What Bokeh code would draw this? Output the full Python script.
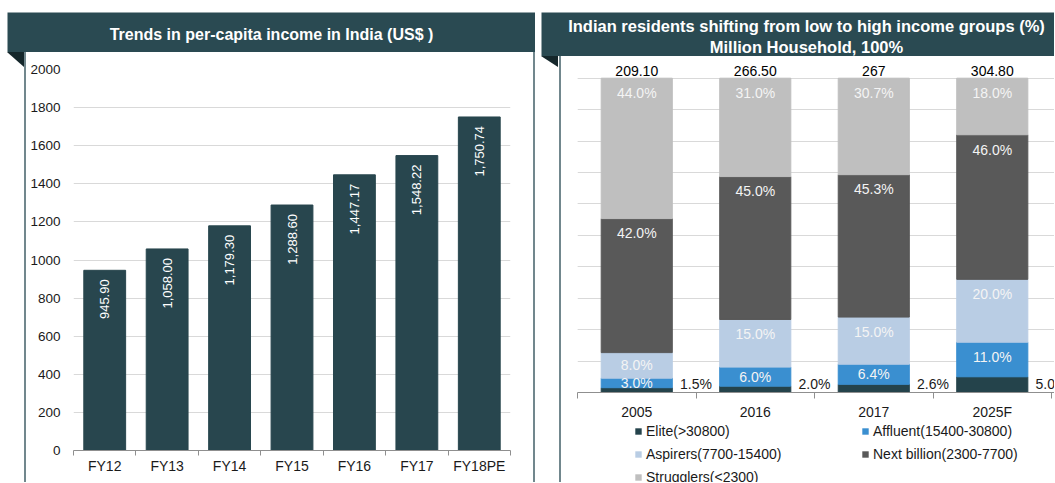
import numpy as np
from bokeh.plotting import figure
from bokeh.models import (ColumnDataSource, Range1d, FixedTicker, Legend, LegendItem,
                          Div, Spacer, Grid)
from bokeh.layouts import row, column
from bokeh.core.properties import value
from bokeh.embed import file_html
from bokeh.resources import INLINE

# ---------------- data ----------------
fy_labels = ["FY12", "FY13", "FY14", "FY15", "FY16", "FY17", "FY18PE"]
per_capita_income = [945.90, 1058.00, 1179.30, 1288.60, 1447.17, 1548.22, 1750.74]
left_ticks = list(range(0, 2001, 200))

years = ["2005", "2016", "2017", "2025F"]
households_mn_labels = ["209.10", "266.50", "267", "304.80"]
elite = [1.5, 2.0, 2.6, 5.0]
affluent = [3.0, 6.0, 6.4, 11.0]
aspirers = [8.0, 15.0, 15.0, 20.0]
next_billion = [42.0, 45.0, 45.3, 46.0]
strugglers = [44.0, 31.0, 30.7, 18.0]
group_names = ["Elite(>30800)", "Affluent(15400-30800)", "Aspirers(7700-15400)",
               "Next billion(2300-7700)", "Strugglers(<2300)"]
right_grid = list(range(0, 101, 10))

title_left = "Trends in per-capita income in India (US$ )"
title_right_1 = "Indian residents shifting from low to high income groups (%)"
title_right_2 = "Million Household, 100%"

# ---------------- styles ----------------
FONT = "Liberation Sans"
HDR = "#2a4a52"
BAR = "#28464e"
TRI = "#15272b"
EDGE = "#71878d"
GRID = "#d9d9d9"
AXIS = "#8f8f8f"
TXT = "#1a1a1a"
SEG_COLORS = ["#24434b", "#3a8fd0", "#b9cde4", "#595959", "#bfbfbf"]


def bare_figure(width, height, fill="white", **kw):
    f = figure(width=width, height=height, toolbar_location=None, output_backend="svg",
               min_border=0, x_axis_location=None, y_axis_location=None,
               background_fill_color=fill, border_fill_color=fill, outline_line_color=None, **kw)
    f.margin = 0
    f.xgrid.visible = False
    f.ygrid.visible = False
    return f


def header(width, height, lines, size):
    h = bare_figure(width, height, fill=HDR, x_range=Range1d(0, width), y_range=Range1d(0, height))
    for (tx, ty, t) in lines:
        h.text(x=[tx], y=[ty], text=[t], text_align="center", text_baseline="middle",
               text_color="white", text_font=value(FONT), text_font_style="bold",
               text_font_size=size)
    return h


def strip(width, height, tri_w, tri_h):
    html = (f'<div style="position:relative;width:{width}px;height:{height}px;background:#ffffff;">'
            f'<div style="position:absolute;left:0;top:0;width:0;height:0;'
            f'border-top:{tri_h}px solid {TRI};border-left:{tri_w}px solid transparent;"></div>'
            f'<div style="position:absolute;left:{width-2}px;top:0;width:2px;height:{height}px;'
            f'background:{EDGE};"></div></div>')
    return Div(text=html, width=width, height=height, margin=0)


def style_cat_axis(a, labels, centers, n_cat, tick_len, standoff):
    a.ticker = FixedTicker(ticks=centers, minor_ticks=list(range(n_cat + 1)))
    a.major_label_overrides = {x: l for x, l in zip(centers, labels)}
    a.major_tick_out = 0
    a.major_tick_in = 0
    a.minor_tick_out = tick_len
    a.minor_tick_in = 0
    a.minor_tick_line_color = AXIS
    a.axis_line_color = AXIS
    a.major_label_standoff = standoff
    a.major_label_text_font = FONT
    a.major_label_text_font_size = "14px"
    a.major_label_text_color = TXT


# ---------------- left chart ----------------
n = len(fy_labels)
xs = [i + 0.5 for i in range(n)]
p1 = figure(width=507, height=430, x_range=Range1d(0, n), y_range=Range1d(0, 2000),
            toolbar_location=None, output_backend="svg",
            min_border_left=47, min_border_right=23, min_border_top=17, min_border_bottom=32,
            outline_line_color=None, background_fill_color="white", border_fill_color="white")
p1.margin = 0
src1 = ColumnDataSource(dict(x=xs, top=per_capita_income,
                             label=[f"{v:,.2f}" for v in per_capita_income]))
p1.vbar(x="x", top="top", bottom=0, width=0.67, color=BAR, source=src1)
p1.text(x="x", y="top", text="label", angle=np.pi / 2, text_align="right",
        text_baseline="middle", y_offset=9, text_color="white", text_font=value(FONT),
        text_font_size="13px", source=src1)

style_cat_axis(p1.xaxis[0], fy_labels, xs, n, 5, 2)

ay = p1.yaxis[0]
ay.ticker = FixedTicker(ticks=left_ticks)
ay.axis_line_color = None
ay.major_tick_line_color = None
ay.minor_tick_line_color = None
ay.major_tick_out = 0
ay.major_tick_in = 0
ay.minor_tick_out = 0
ay.minor_tick_in = 0
ay.major_label_standoff = 13
ay.major_label_text_font = FONT
ay.major_label_text_font_size = "13.5px"
ay.major_label_text_color = TXT
p1.ygrid.ticker = FixedTicker(ticks=left_ticks)
p1.ygrid.grid_line_color = GRID
p1.xgrid.visible = False

# ---------------- right chart ----------------
m = len(years)
xr = [i + 0.5 for i in range(m)]
series = [elite, affluent, aspirers, next_billion, strugglers]
totals = [sum(v) for v in zip(*series)]
norm = [[v / t * 100 for v, t in zip(s, totals)] for s in series]
keys = ["elite", "affluent", "aspirers", "next_billion", "strugglers"]
data = dict(x=xr)
for k, s in zip(keys, norm):
    data[k] = s
src2 = ColumnDataSource(data)

p2 = figure(width=493, height=366, x_range=Range1d(0, 4.025), y_range=Range1d(0, 106.9),
            y_axis_location=None, toolbar_location=None, output_backend="svg",
            min_border_left=16, min_border_right=0, min_border_top=0, min_border_bottom=27,
            outline_line_color=None, background_fill_color="white", border_fill_color="white")
p2.margin = 0
p2.add_layout(Grid(dimension=1, ticker=FixedTicker(ticks=right_grid), grid_line_color=GRID))
p2.xgrid.visible = False
rs = p2.vbar_stack(keys, x="x", width=0.6, color=SEG_COLORS, source=src2)

lab_x, lab_y, lab_t = [], [], []
cum = [0.0] * m
for si, s in enumerate(norm):
    for j in range(m):
        b = cum[j]
        t = b + s[j]
        if si > 0:
            lab_x.append(xr[j])
            lab_y.append(max(t - 4.7, (b + t) / 2))
            lab_t.append(f"{series[si][j]:.1f}%")
        cum[j] = t
p2.text(x=lab_x, y=lab_y, text=lab_t, text_align="center", text_baseline="middle",
        text_color="#f4f4f4", text_font=value(FONT), text_font_size="14px")

p2.text(x=[i + 1 for i in range(m)], y=[0] * m, text=[f"{v:.1f}%" for v in elite],
        text_align="center", text_baseline="bottom", y_offset=-1,
        text_color=TXT, text_font=value(FONT), text_font_size="14px")

p2.text(x=xr, y=[100] * m, text=households_mn_labels, text_align="center",
        text_baseline="bottom", y_offset=-2, text_color="#000000",
        text_font=value(FONT), text_font_size="14px")

style_cat_axis(p2.xaxis[0], years, xr, m, 6, 5)

# legend area under the right chart (two single-column legends)
pl = bare_figure(493, 60, x_range=Range1d(0, 1), y_range=Range1d(0, 1))
# zero-height swatch renderers (nothing visible); only their legend glyphs show
leg_rs = [pl.vbar(x=[0.5], bottom=[0], top=[0], width=0.1, fill_color=c, line_color=None)
          for c in SEG_COLORS]

LEG_ROW = 17
LEG_GAP = 6


def make_legend(idx, x):
    h = len(idx) * LEG_ROW + (len(idx) - 1) * LEG_GAP
    lg = Legend(items=[LegendItem(label=group_names[i], renderers=[leg_rs[i]]) for i in idx],
                orientation="vertical", location=(x, 60 - h),
                glyph_width=8, glyph_height=8, label_standoff=4,
                label_height=LEG_ROW, spacing=LEG_GAP, padding=0, margin=0,
                border_line_color=None, background_fill_alpha=0,
                label_text_font=FONT, label_text_font_size="14px", label_text_color=TXT)
    pl.add_layout(lg)


make_legend([0, 2, 4], 57)
make_legend([1, 3], 284)

# ---------------- layout ----------------
hdr1 = header(528, 40, [(264, 18.5, title_left)], "16px")
hdr2 = header(513, 44, [(265, 30.5, title_right_1), (265, 10, title_right_2)], "16.5px")
edge1 = Div(text=f'<div style="width:2px;height:430px;background:{EDGE};"></div>',
            width=2, height=430, margin=0)

left_col = column(hdr1, row(strip(19, 430, 17, 15), p1, edge1, spacing=0), spacing=0)
right_col = column(hdr2, row(strip(20, 426, 17, 11), column(p2, pl, spacing=0), spacing=0),
                   spacing=0)
layout = column(Spacer(width=1054, height=12, margin=0),
                row(Spacer(width=7, height=10, margin=0), left_col,
                    Spacer(width=6, height=10, margin=0), right_col, spacing=0),
                spacing=0)

open("out.html", "w").write(file_html(layout, INLINE))
